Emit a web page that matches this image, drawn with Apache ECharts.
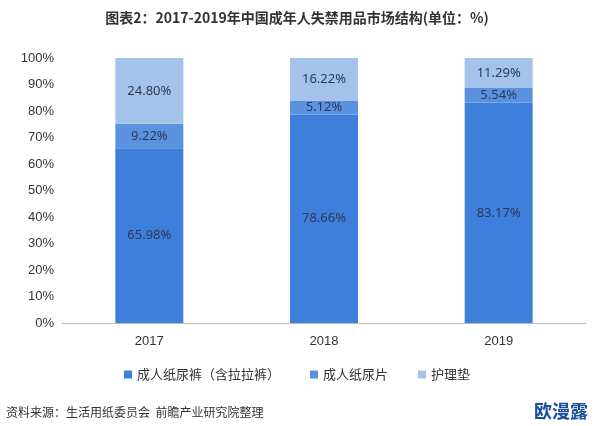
<!DOCTYPE html><html><head><meta charset="utf-8">
<script src="https://cdn.jsdelivr.net/npm/echarts@6/dist/echarts.min.js"></script>
<style>html,body{margin:0;padding:0;background:#fff}#c{width:594px;height:426px}</style></head><body><div id="c"></div>
<script>
const categories=['2017','2018','2019'];
const diapers=[65.98,78.66,83.17];
const pads=[9.22,5.12,5.54];
const mats=[24.80,16.22,11.29];
const names=['成人纸尿裤（含拉拉裤）','成人纸尿片','护理垫'];
const colors=['#3f7fdc','#5a92e0','#a4c2ea'];
const lab={show:true,position:'inside',color:'#2e3a55',fontSize:13,fontFamily:'Noto Sans',formatter:p=>p.value.toFixed(2)+'%'};
const mk=(i,d)=>({name:names[i],type:'bar',stack:'a',barWidth:68,data:d,itemStyle:{color:colors[i]},label:lab});
const c=echarts.init(document.getElementById('c'));
c.setOption({
 animation:false,
 title:{text:'图表2：2017-2019年中国成年人失禁用品市场结构(单位：%)',left:'center',top:6,textStyle:{fontSize:14,fontWeight:'bold',color:'#333',fontFamily:'Noto Sans CJK SC'}},
 grid:{left:62,right:8,top:58,bottom:103},
 legend:{bottom:40,left:'center',itemWidth:8,itemHeight:8,icon:'rect',itemGap:30,textStyle:{fontSize:13,color:'#333',fontFamily:'Noto Sans CJK SC'}},
 xAxis:{type:'category',data:categories,axisTick:{show:false},axisLine:{lineStyle:{color:'#bbb'}},axisLabel:{color:'#333',fontSize:13,margin:12}},
 yAxis:{type:'value',min:0,max:100,interval:10,axisLabel:{formatter:'{value}%',color:'#333',fontSize:13},splitLine:{show:false},axisLine:{show:false}},
 graphic:[{type:'text',left:6,bottom:8,style:{text:'资料来源：生活用纸委员会  前瞻产业研究院整理',fontSize:12,fill:'#333',fontFamily:'Noto Sans CJK SC'}},
 {type:'text',right:6,bottom:6,style:{text:'欧漫露',fontSize:18,fontWeight:'bold',fill:'#1a4fa0',fontFamily:'Noto Sans CJK SC'}}],
 series:[mk(0,diapers),mk(1,pads),mk(2,mats)]
});
</script></body></html>
